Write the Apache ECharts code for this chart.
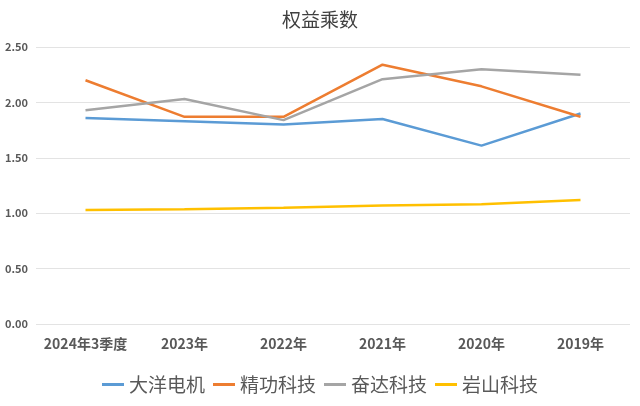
<!DOCTYPE html>
<html><head><meta charset="utf-8">
<script src="https://cdn.jsdelivr.net/npm/echarts@6/dist/echarts.min.js"></script>
<style>html,body{margin:0;padding:0;background:#fff}#c{width:640px;height:406px}</style>
</head><body><div id="c"></div>
<script>
var categories = ['2024年3季度','2023年','2022年','2021年','2020年','2019年'];
var seriesNames = ['大洋电机','精功科技','奋达科技','岩山科技'];
var dayang = [1.86,1.83,1.80,1.85,1.61,1.90];
var jinggong = [2.20,1.87,1.87,2.34,2.145,1.87];
var fenda = [1.93,2.03,1.84,2.21,2.30,2.25];
var yanshan = [1.03,1.035,1.05,1.07,1.08,1.12];
var colors = ['#5B9BD5','#ED7D31','#A5A5A5','#FFC000'];
var values = [dayang,jinggong,fenda,yanshan];
var chart = echarts.init(document.getElementById('c'));
chart.setOption({
  animation:false,
  title:{text:'权益乘数',left:'center',top:5,textStyle:{fontFamily:'Noto Sans CJK SC',fontSize:19,fontWeight:'normal',color:'#404040'}},
  grid:{left:36,right:10,top:47,bottom:82},
  legend:{bottom:7,left:'center',itemWidth:22,itemHeight:3,itemGap:8,icon:'rect',
    textStyle:{fontFamily:'Noto Sans CJK SC',fontSize:19,color:'#595959'},data:seriesNames},
  xAxis:{type:'category',data:categories,boundaryGap:true,
    axisLine:{show:false},axisTick:{show:false},
    axisLabel:{interval:0,margin:13,fontFamily:'Noto Sans CJK SC',fontSize:14,fontWeight:'bold',color:'#595959'}},
  yAxis:{type:'value',min:0,max:2.5,interval:0.5,
    axisLabel:{formatter:function(v){return v.toFixed(2);},margin:8,fontFamily:'Noto Sans CJK SC',fontSize:11,fontWeight:'bold',color:'#595959'},
    splitLine:{lineStyle:{color:'#E3E3E3',width:1}},axisLine:{show:false},axisTick:{show:false}},
  series: seriesNames.map(function(n,i){return {name:n,type:'line',data:values[i],symbol:'none',
    lineStyle:{color:colors[i],width:2.5},itemStyle:{color:colors[i]}};})
});
</script></body></html>
